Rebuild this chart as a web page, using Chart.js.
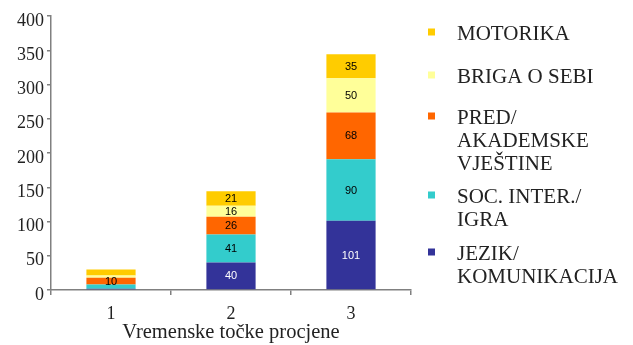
<!DOCTYPE html>
<html>
<head>
<meta charset="utf-8">
<script src="https://cdn.jsdelivr.net/npm/chart.js@4.4.1/dist/chart.umd.min.js"></script>
<style>
  html, body { margin: 0; padding: 0; background: #fff; }
  #wrap { width: 633px; height: 345px; position: relative; }
</style>
</head>
<body>
<div id="wrap"><canvas id="c" width="633" height="345"></canvas></div>
<script>
// Time points of assessment
const categories = ['1', '2', '3'];

// Series, stacked bottom to top
const jezik    = [2, 40, 101];
const socInter = [6, 41, 90];
const pred     = [10, 26, 68];
const brigaSebi = [3, 16, 50];
const motorika = [9, 21, 35];

// Legend text, one entry per line
const labelJezik    = ['JEZIK/', 'KOMUNIKACIJA'];
const labelSoc      = ['SOC. INTER./', 'IGRA'];
const labelPred     = ['PRED/', 'AKADEMSKE', 'VJEŠTINE'];
const labelBriga    = ['BRIGA O SEBI'];
const labelMotorika = ['MOTORIKA'];

const yTicks = [0, 50, 100, 150, 200, 250, 300, 350, 400];
const xTitle = 'Vremenske točke procjene';

const SERIF = '"Liberation Serif", "DejaVu Serif", serif';
const SANS = '"Liberation Sans", Arial, sans-serif';

const datasets = [
  { lines: labelJezik, data: jezik, backgroundColor: '#333399', textColor: '#ffffff' },
  { lines: labelSoc, data: socInter, backgroundColor: '#33CCCC', textColor: '#000000' },
  { lines: labelPred, data: pred, backgroundColor: '#FF6600', textColor: '#000000' },
  { lines: labelBriga, data: brigaSebi, backgroundColor: '#FFFF99', textColor: '#000000' },
  { lines: labelMotorika, data: motorika, backgroundColor: '#FFCC00', textColor: '#000000' }
].map(d => ({
  label: d.lines.join(' '),
  lines: d.lines,
  data: d.data,
  backgroundColor: d.backgroundColor,
  textColor: d.textColor,
  borderWidth: 0,
  barPercentage: 1,
  categoryPercentage: 0.41
}));

// Value labels centred in each segment
const segmentLabels = {
  id: 'segmentLabels',
  afterDatasetsDraw(chart) {
    const ctx = chart.ctx;
    ctx.save();
    ctx.font = '11px ' + SANS;
    ctx.textAlign = 'center';
    ctx.textBaseline = 'middle';
    chart.data.datasets.forEach((ds, i) => {
      const meta = chart.getDatasetMeta(i);
      meta.data.forEach((bar, j) => {
        const v = ds.data[j];
        if (v < 10) return;
        ctx.fillStyle = ds.textColor;
        ctx.fillText(String(v), bar.x, (bar.y + bar.base) / 2 + 0.5);
      });
    });
    ctx.restore();
  }
};

// Legend on the right, top entry = top of the stack
const sideLegend = {
  id: 'sideLegend',
  afterDraw(chart) {
    const ctx = chart.ctx;
    const firstLineY = [33, 76, 117, 196, 253];
    const lineH = 23;
    const boxX = 428, boxSize = 7, textX = 457;
    ctx.save();
    ctx.font = '21px ' + SERIF;
    ctx.textBaseline = 'middle';
    ctx.textAlign = 'left';
    const order = chart.data.datasets.slice().reverse();
    order.forEach((ds, k) => {
      const y0 = firstLineY[k];
      ctx.fillStyle = ds.backgroundColor;
      ctx.fillRect(boxX, y0 - boxSize / 2 - 1, boxSize, boxSize);
      ctx.fillStyle = '#222222';
      ds.lines.forEach((t, n) => ctx.fillText(t, textX, y0 + 1 + n * lineH));
    });
    ctx.restore();
  }
};

new Chart(document.getElementById('c'), {
  type: 'bar',
  data: { labels: categories, datasets },
  plugins: [segmentLabels, sideLegend],
  options: {
    responsive: false,
    animation: false,
    layout: { padding: { top: 16, right: 222, left: 0, bottom: 0 } },
    plugins: { legend: { display: false }, tooltip: { enabled: false } },
    scales: {
      x: {
        stacked: true,
        grid: { offset: true, drawOnChartArea: false, drawTicks: true, tickLength: 5, color: '#808080', lineWidth: 1.5 },
        border: { color: '#808080', width: 1.5 },
        ticks: { color: '#222222', font: { family: SERIF, size: 18 }, padding: 8 },
        title: { display: true, text: xTitle, color: '#222222', font: { family: SERIF, size: 20.5 }, padding: { top: 0, bottom: 0 } },
        afterFit(scale) { scale.height = 55; }
      },
      y: {
        stacked: true,
        min: 0,
        max: 400,
        afterBuildTicks(scale) { scale.ticks = yTicks.map(v => ({ value: v })); },
        grid: { drawOnChartArea: false, drawTicks: true, tickLength: 4, color: '#808080', lineWidth: 1.5 },
        border: { color: '#808080', width: 1.5 },
        ticks: { color: '#222222', font: { family: SERIF, size: 18 }, padding: 3, labelOffset: 5 },
        afterFit(scale) { scale.width = 51; }
      }
    }
  }
});
</script>
</body>
</html>
